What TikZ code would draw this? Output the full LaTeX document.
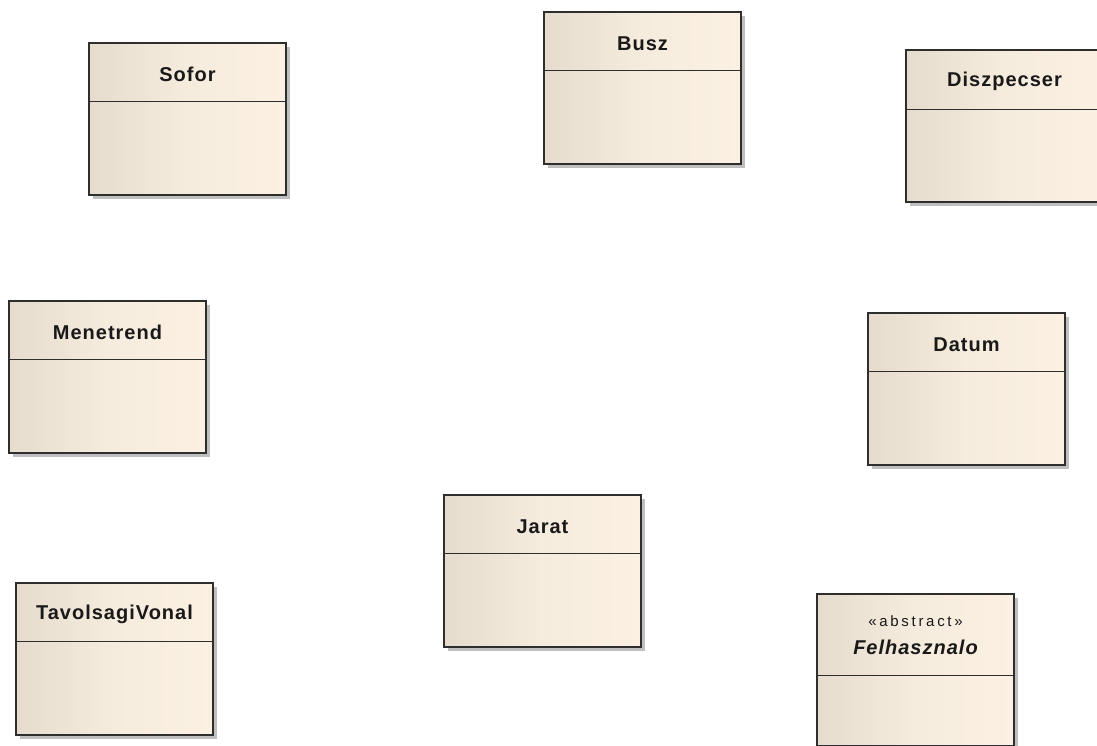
\documentclass[tikz,border=0pt]{standalone}
\usepackage{fontspec}
\setmainfont{Liberation Sans}
\usetikzlibrary{shadows}
\definecolor{boxL}{HTML}{E6DCCD}
\definecolor{boxM}{HTML}{F6ECDE}
\definecolor{boxR}{HTML}{FBF0E2}
\definecolor{edge}{HTML}{2E2E2E}
\tikzset{
  classbox/.style={rectangle, draw=edge, line width=1.5pt, minimum width=197pt, minimum height=152pt,
    inner sep=0pt, left color=boxL, right color=boxR, middle color=boxM,
    drop shadow={shadow xshift=4pt, shadow yshift=-4pt, fill=black!50, opacity=0.5}},
  hdrline/.style={draw=edge, line width=1.5pt},
  classtitle/.style={font=\fontsize{20}{22}\selectfont\bfseries\addfontfeature{LetterSpace=5}, text=black!90, align=center, inner sep=0pt}
}
% name, left, top, header height, title offset, title
\newcommand\umlbox[6]{%
  \node[classbox] (#1) at (#2+98.5,#3+76) {};
  \draw[hdrline] ([yshift=-#4pt]#1.north west) -- ([yshift=-#4pt]#1.north east);
  \node[classtitle] (#1-t) at ([yshift=-#5pt]#1.north) {#6};
}
\begin{document}
\begin{tikzpicture}[x=1pt,y=-1pt]
\useasboundingbox (0,0) rectangle (1097,745);
\umlbox{sofor}{89}{43}{59}{32}{Sofor}
\umlbox{busz}{544}{12}{59}{32}{Busz}
\umlbox{diszp}{906}{50}{60}{32}{Diszpecser}
\umlbox{menet}{9}{301}{59}{32}{Menetrend}
\umlbox{datum}{868}{313}{59}{32}{Datum}
\umlbox{jarat}{444}{495}{59}{32}{Jarat}
\umlbox{tavol}{16}{583}{59}{32}{TavolsagiVonal}
\umlbox{felh}{817}{594}{82}{42}{{\fontsize{15}{17}\selectfont\mdseries\addfontfeature{LetterSpace=18}«abstract»}\\[6pt]{\itshape Felhasznalo}}
\end{tikzpicture}
\end{document}
